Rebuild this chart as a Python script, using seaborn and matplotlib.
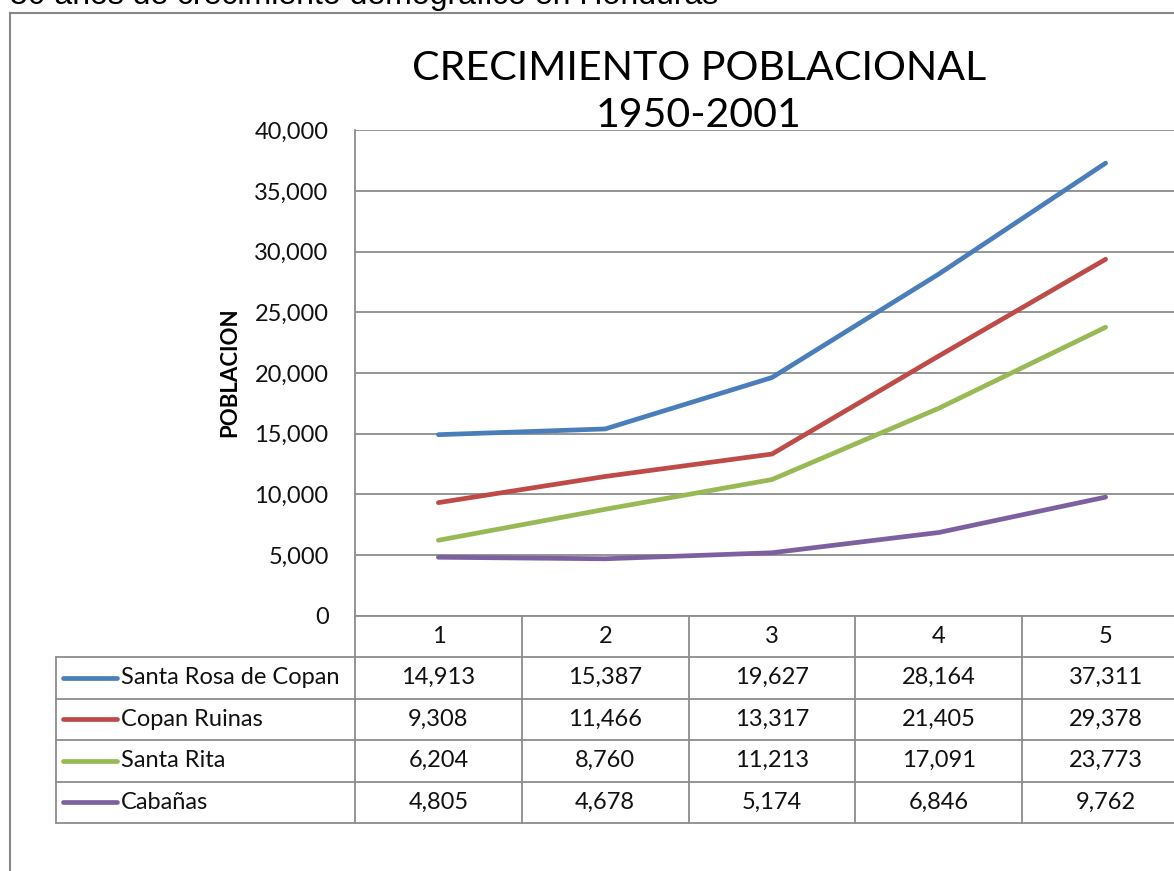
import pandas as pd
import matplotlib
matplotlib.use("Agg")
import matplotlib.pyplot as plt
import matplotlib.patches as mpatches
import seaborn as sns

# datos de la tabla
periodos = [1, 2, 3, 4, 5]
santa_rosa = [14913, 15387, 19627, 28164, 37311]
copan_ruinas = [9308, 11466, 13317, 21405, 29378]
santa_rita = [6204, 8760, 11213, 17091, 23773]
cabanas = [4805, 4678, 5174, 6846, 9762]
municipios = ["Santa Rosa de Copan", "Copan Ruinas", "Santa Rita", "Cabañas"]
colores = ["#4A7EBB", "#BE4B48", "#98B954", "#7D60A0"]
y_ticks = [0, 5000, 10000, 15000, 20000, 25000, 30000, 35000, 40000]

series = [santa_rosa, copan_ruinas, santa_rita, cabanas]
df = pd.DataFrame({
    "periodo": periodos * len(municipios),
    "poblacion": [v for s in series for v in s],
    "municipio": [m for m in municipios for _ in periodos],
})

sns.set_theme(style="white")
plt.rcParams['font.family'] = ['Lato', 'DejaVu Sans']

W, H = 1174, 871
fig = plt.figure(figsize=(W / 100, H / 100), dpi=100)


def px(x0, y0, x1, y1):
    return [x0 / W, 1 - y1 / H, (x1 - x0) / W, (y1 - y0) / H]


gris = "#8c8c8c"
ax = fig.add_axes(px(355, 130.5, 1189, 615.5))
sns.lineplot(data=df, x="periodo", y="poblacion", hue="municipio",
             hue_order=municipios, palette=colores, linewidth=3.4,
             legend=False, ax=ax, solid_capstyle="round")
ax.set_xlim(0.5, 5.5)
ax.set_ylim(0, 40000)
ax.set_yticks(y_ticks)
ax.set_yticklabels([f"{v:,}" for v in y_ticks], fontsize=17, color="#111111")
ax.set_xticks([])
ax.set_xlabel("")
ax.set_ylabel("")
ax.tick_params(axis="y", length=0, pad=19)
ax.yaxis.grid(True, color=gris, lw=1.3)
ax.set_axisbelow(True)
for s in ["top", "right"]:
    ax.spines[s].set_visible(False)
for s in ["left", "bottom"]:
    ax.spines[s].set_color(gris)
    ax.spines[s].set_linewidth(1.3)

# tabla de datos debajo
unit = (1189 - 355) / 5.0


def xd(p):
    return 0.5 - (355 - p) / unit


tab = fig.add_axes(px(55.5, 615.5, 1189, 823))
tab.set_xlim(xd(55.5), 5.5)
tab.set_ylim(5, 0)
tab.axis("off")
for k in range(6):
    tab.plot([0.5 + k, 0.5 + k], [0, 5], color=gris, lw=1.3, clip_on=False)
tab.plot([xd(55.5), xd(55.5)], [1, 5], color=gris, lw=1.3, clip_on=False)
for r in range(1, 6):
    tab.plot([xd(55.5), 5.5], [r, r], color=gris, lw=1.3, clip_on=False)

for p in periodos:
    tab.text(p, 0.5, str(p), ha="center", va="center", fontsize=17, color="#111111")
for i, (m, s, c) in enumerate(zip(municipios, series, colores)):
    y = i + 1.5
    tab.plot([xd(63), xd(117)], [y, y], color=c, lw=3.4, solid_capstyle="round")
    tab.text(xd(121), y, m, ha="left", va="center", fontsize=17, color="#111111")
    for p, v in zip(periodos, s):
        tab.text(p, y, f"{v:,}", ha="center", va="center", fontsize=17, color="#111111")

# titulos
fig.text(699 / W, 1 - 80 / H, "CRECIMIENTO POBLACIONAL", ha="center", va="baseline",
         fontsize=29.6, color="#000000")
fig.text(699 / W, 1 - 127 / H, "1950-2001", ha="center", va="baseline",
         fontsize=29.6, color="#000000")
fig.text(230 / W, 1 - 372 / H, "POBLACION", rotation=90, ha="center", va="center",
         fontsize=16, fontweight="bold", color="#000000")

# texto cortado arriba y marco exterior
fig.text(10 / W, 1 - 4 / H, "50 años de crecimiento demográfico en Honduras",
         ha="left", va="baseline", fontsize=23, family="Liberation Sans", color="#000000")
fig.patches.append(mpatches.Rectangle((9.5 / W, -0.2), 1.2, 1.2 - 13 / H,
                                      transform=fig.transFigure, fill=False,
                                      edgecolor="#888888", lw=1.5))

fig.savefig("out.png", dpi=100)
